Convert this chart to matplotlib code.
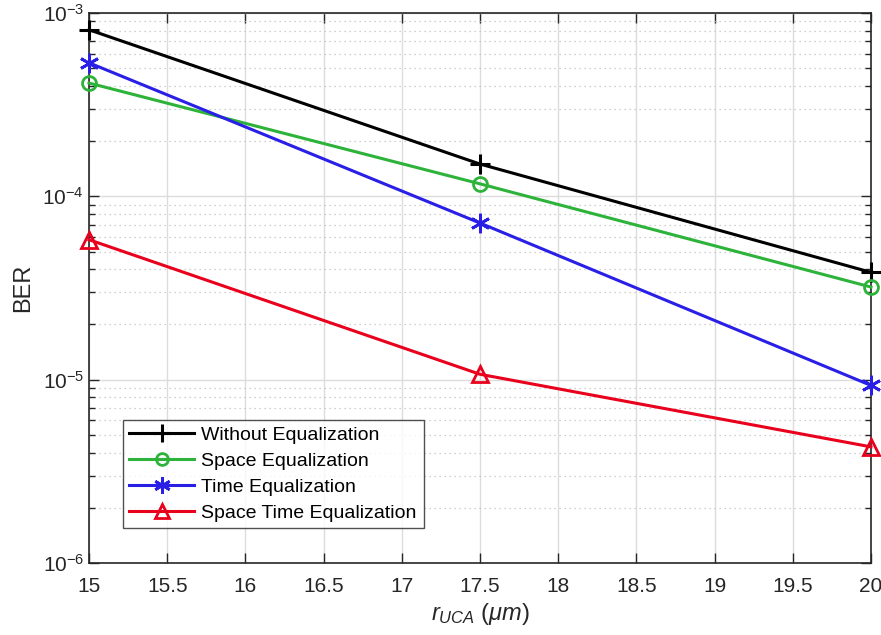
import matplotlib
matplotlib.use("Agg")
import matplotlib.pyplot as plt
from matplotlib.ticker import LogLocator, NullFormatter, FixedLocator

plt.rcParams['font.family'] = ['Liberation Sans', 'DejaVu Sans']
plt.rcParams['mathtext.fontset'] = 'custom'
plt.rcParams['mathtext.it'] = 'Liberation Sans:italic'
plt.rcParams['mathtext.rm'] = 'Liberation Sans'
plt.rcParams['mathtext.sf'] = 'Liberation Sans'
plt.rcParams['axes.unicode_minus'] = False

r_uca = [15, 17.5, 20]
without_eq = [8.1e-4, 1.5e-4, 3.85e-5]
space_eq = [4.15e-4, 1.17e-4, 3.2e-5]
time_eq = [5.35e-4, 7.15e-5, 9.3e-6]
space_time_eq = [5.8e-5, 1.07e-5, 4.3e-6]
labels = ["Without Equalization", "Space Equalization", "Time Equalization", "Space Time Equalization"]
x_ticks = [15, 15.5, 16, 16.5, 17, 17.5, 18, 18.5, 19, 19.5, 20]
x_tick_labels = ['15', '15.5', '16', '16.5', '17', '17.5', '18', '18.5', '19', '19.5', '20']

fig = plt.figure(figsize=(8.81, 6.35), dpi=100)
ax = fig.add_axes([89/881, 1-563/635, (871-89)/881, (563-13)/635])

lw = 2.2
ax.plot(r_uca, without_eq, color='black', marker='+', ms=15, mew=2.2, lw=lw, label=labels[0], clip_on=False, zorder=5)
ax.plot(r_uca, space_eq, color='#2db33a', marker='o', ms=10, mfc='none', mew=2, lw=lw, label=labels[1], clip_on=False, zorder=5)
ax.plot(r_uca, time_eq, color='#2a1fe6', marker=(6, 2, 0), ms=14, mew=2, lw=lw, label=labels[2], clip_on=False, zorder=5)
ax.plot(r_uca, space_time_eq, color='#e8001c', marker='^', ms=12, mfc='none', mew=2, lw=lw, label=labels[3], clip_on=False, zorder=5)

ax.set_yscale('log')
ax.set_xlim(15, 20)
ax.set_ylim(1e-6, 1e-3)
ax.xaxis.set_major_locator(FixedLocator(x_ticks))
ax.set_xticklabels(x_tick_labels)
ax.set_yticks([1e-6, 1e-5, 1e-4, 1e-3])
ax.set_yticklabels([r'$10^{-6}$', r'$10^{-5}$', r'$10^{-4}$', r'$10^{-3}$'])
ax.yaxis.set_minor_locator(LogLocator(base=10, subs=range(2, 10), numticks=100))
ax.yaxis.set_minor_formatter(NullFormatter())

ax.grid(True, which='major', color='#dcdcdc', lw=1.0, ls='-')
ax.grid(True, which='minor', axis='y', color='#c0c0c0', lw=0.9, ls=(0, (1, 3)))
ax.set_axisbelow(True)

ax.tick_params(which='both', direction='in', top=True, right=True, labelsize=15, colors='#262626')
ax.tick_params(which='major', length=7, width=1.0)
ax.tick_params(which='minor', length=4, width=1.0)
ax.tick_params(axis='x', pad=10)
for s in ax.spines.values():
    s.set_color('#262626')
    s.set_linewidth(1.2)

ax.set_xlabel(r'$r_{UCA}$ $(\mu m)$', fontsize=17, color='#262626', labelpad=4)
ax.set_ylabel('BER', fontsize=17, color='#262626', labelpad=6)

leg = ax.legend(loc='lower left', bbox_to_anchor=(0.043, 0.063), fontsize=14,
                frameon=True, fancybox=False, edgecolor='#262626', borderpad=0.35,
                labelspacing=0.42, handlelength=3.3, handletextpad=0.4, borderaxespad=0)
leg.get_frame().set_linewidth(1.0)
for h in leg.legend_handles:
    h.set_markersize(h.get_markersize() * 0.85)

fig.savefig('out.png', dpi=100)
